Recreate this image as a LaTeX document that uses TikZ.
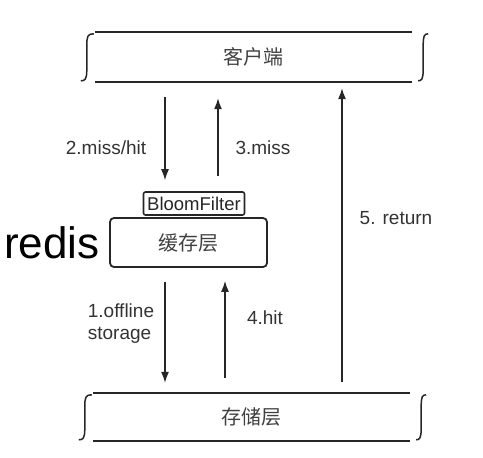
\documentclass[tikz,border=0pt]{standalone}
\usepackage{fontspec}
\setmainfont{Liberation Sans}
\newfontfamily\cjk{Noto Sans CJK SC}
\usetikzlibrary{arrows.meta}
\begin{document}
\begin{tikzpicture}[x=1pt,y=-1pt,
  layer/.style={minimum width=317pt,minimum height=50pt,inner sep=0pt,font=\cjk\fontsize{20}{24}\selectfont,text=black!75},
  edge/.style={line width=2.4pt,black!85},
  brc/.style={line width=1.5pt,black!85},
  arr/.style={line width=1.3pt,black!85,-{Latex[length=11pt,width=8pt]}},
  lbl/.style={font=\fontsize{19}{22}\selectfont,text=black!80,align=left,inner sep=0pt}]
\useasboundingbox (0,0) rectangle (483,458);
% layers
\node[layer] (client) at (253.5,57) {客户端};
\node[layer,minimum height=48pt] (store) at (251.5,417) {存储层};
\draw[edge] (client.north west) -- (client.north east);
\draw[edge] (client.south west) -- (client.south east);
\draw[edge] (store.north west) -- (store.north east);
\draw[edge] (store.south west) -- (store.south east);
% braces client
\draw[brc] ([shift={(-1,2)}]client.north west) .. controls +(-6,0) and +(0,-10) .. ([shift={(-8,14)}]client.north west) -- ([shift={(-8,38)}]client.north west) .. controls +(0,10) and +(4,0) .. ([shift={(-14,49)}]client.north west);
\draw[brc] ([shift={(16,2)}]client.north east) .. controls +(-4,0) and +(0,-10) .. ([shift={(11,14)}]client.north east) -- ([shift={(11,38)}]client.north east) .. controls +(0,10) and +(3,0) .. ([shift={(6,49)}]client.north east);
% braces store
\draw[brc] ([shift={(-1,2)}]store.north west) .. controls +(-6,0) and +(0,-10) .. ([shift={(-8,14)}]store.north west) -- ([shift={(-8,36)}]store.north west) .. controls +(0,10) and +(4,0) .. ([shift={(-14,47)}]store.north west);
\draw[brc] ([shift={(16,2)}]store.north east) .. controls +(-4,0) and +(0,-10) .. ([shift={(11,14)}]store.north east) -- ([shift={(11,36)}]store.north east) .. controls +(0,10) and +(3,0) .. ([shift={(6,47)}]store.north east);
% cache
\node[draw,line width=1.8pt,black!85,rounded corners=4pt,minimum width=157pt,minimum height=49pt,inner sep=0pt,font=\cjk\fontsize{20}{24}\selectfont,text=black!75] (cache) at (188.5,242.5) {缓存层};
\node[draw,line width=1.6pt,black!85,rounded corners=2pt,minimum width=101pt,minimum height=23pt,inner sep=0pt,font=\fontsize{18.5}{20}\selectfont,text=black!85] (bf) at (194,203.5) {BloomFilter};
\node[font=\fontsize{44}{48}\selectfont,text=black,inner sep=0pt] (redis) at (52,243) {redis};
% arrow x positions
\coordinate (xa) at (165,0);
\coordinate (xb) at (218,0);
\coordinate (xc) at (225,0);
\coordinate (xd) at (342,0);
\draw[arr,shorten <=15pt,shorten >=11pt] (client.south -| xa) -- (bf.north -| xa);
\draw[arr,shorten <=15pt,shorten >=16pt] (bf.north -| xb) -- (client.south -| xb);
\draw[arr,shorten <=14pt,shorten >=10pt] (cache.south -| xa) -- (store.north -| xa);
\draw[arr,shorten <=15pt,shorten >=13pt] (store.north -| xc) -- (cache.south -| xc);
\draw[arr,shorten <=11pt,shorten >=6pt] (store.north -| xd) -- (client.south -| xd);
% labels
\node[lbl] (l2) at (106,148) {2.miss/hit};
\node[lbl] (l3) at (263,148) {3.miss};
\node[lbl] (l1) at (121,324) {1.offline\\storage};
\node[lbl] (l4) at (265,318) {4.hit};
\node[lbl] (l5) at (396,218) {5. return};
\end{tikzpicture}
\end{document}
